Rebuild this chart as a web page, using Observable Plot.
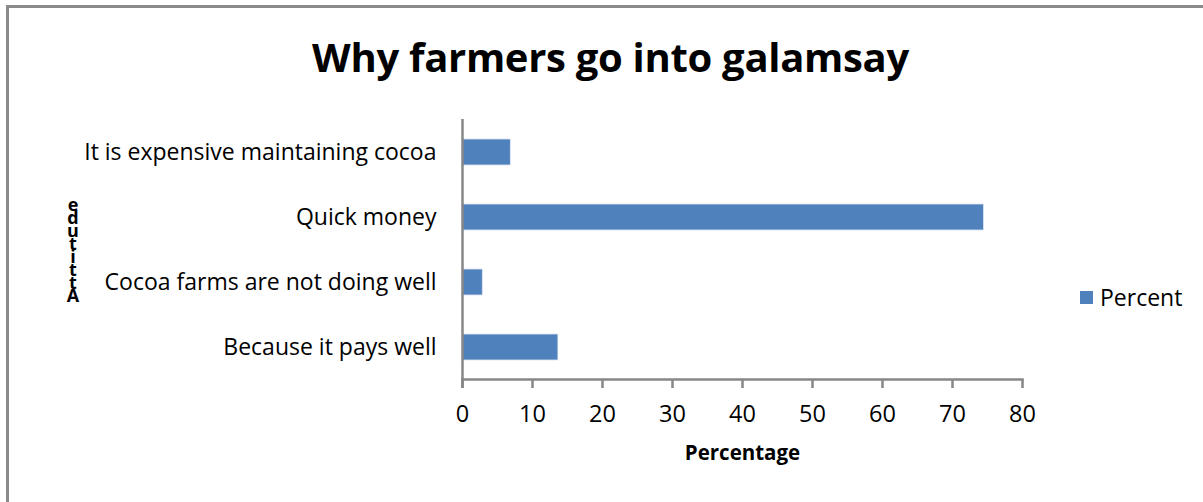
<!DOCTYPE html>
<html><head><meta charset="utf-8">
<script src="https://cdn.jsdelivr.net/npm/d3@7"></script>
<script src="https://cdn.jsdelivr.net/npm/@observablehq/plot@0.6"></script>
<style>
body{margin:0;background:#fff;font-family:"Open Sans",sans-serif;color:#000}
#wrap{position:relative;width:1203px;height:502px;overflow:hidden;background:#fff}
#border{position:absolute;left:6px;top:5px;width:1300px;height:700px;border:3px solid #8a8a8a;box-sizing:border-box;pointer-events:none}
#chart{position:absolute;left:0;top:0}
#title{position:absolute;left:0;width:1221px;top:30px;text-align:center;font-weight:bold;font-size:40px;line-height:54px;letter-spacing:-0.3px}
#ytitle{position:absolute;left:61px;top:198px;width:24px;text-align:center;font-weight:bold;font-size:18px;line-height:13px;white-space:pre-line}
#legend{position:absolute;left:1080px;top:282px;font-size:23px;line-height:30px;display:flex;align-items:center}
#legend .sw{width:13px;height:13px;margin-right:7px}
</style></head>
<body>
<div id="wrap">
  <div id="chart"></div>
  <div id="title"></div>
  <div id="ytitle"></div>
  <div id="legend"></div>
  <div id="border"></div>
</div>
<script>
const chartTitle = "Why farmers go into galamsay";
const yTitle = "Attitude";
const xTitle = "Percentage";
const seriesName = "Percent";
const reasons = ["It is expensive maintaining cocoa", "Quick money", "Cocoa farms are not doing well", "Because it pays well"];
const percents = [6.9, 74.5, 2.9, 13.7];
const xTicks = [0, 10, 20, 30, 40, 50, 60, 70, 80];
const barColor = "#4f81bd";
const axisColor = "#878787";

const data = reasons.map((r, i) => ({reason: r, value: percents[i]}));

const plot = Plot.plot({
  width: 1203,
  height: 502,
  marginLeft: 462,
  marginRight: 181,
  marginTop: 119,
  marginBottom: 123,
  style: {fontFamily: "'Open Sans', sans-serif", fontSize: "23px", color: "#000", background: "transparent"},
  x: {domain: [0, 80], ticks: xTicks},
  y: {domain: reasons, paddingInner: 0.6, paddingOuter: 0.3},
  marks: [
    Plot.barX(data, {x: "value", y: "reason", fill: barColor, stroke: "#dce6f2", strokeWidth: 0.8}),
    Plot.frame({anchor: "bottom", stroke: axisColor, strokeWidth: 2.5}),
    Plot.ruleX([0], {stroke: axisColor, strokeWidth: 2.5, insetBottom: -9}),
    Plot.axisX({ticks: xTicks, tickSize: 9, tickPadding: 17, stroke: axisColor, strokeWidth: 2.5, fontSize: 23.5, label: null}),
    Plot.axisY({tickSize: 0, tickPadding: 26, fontSize: 23, label: null}),
    Plot.text([xTitle], {frameAnchor: "bottom", dy: 80, fontWeight: "bold", fontSize: 20.5})
  ]
});
document.getElementById("chart").appendChild(plot);

document.getElementById("title").textContent = chartTitle;
// stacked letters read bottom-to-top, as in the reference
document.getElementById("ytitle").textContent = yTitle.split("").reverse().join("\n");
document.getElementById("legend").innerHTML = `<div class="sw" style="background:${barColor}"></div><span>${seriesName}</span>`;
</script>
</body></html>
